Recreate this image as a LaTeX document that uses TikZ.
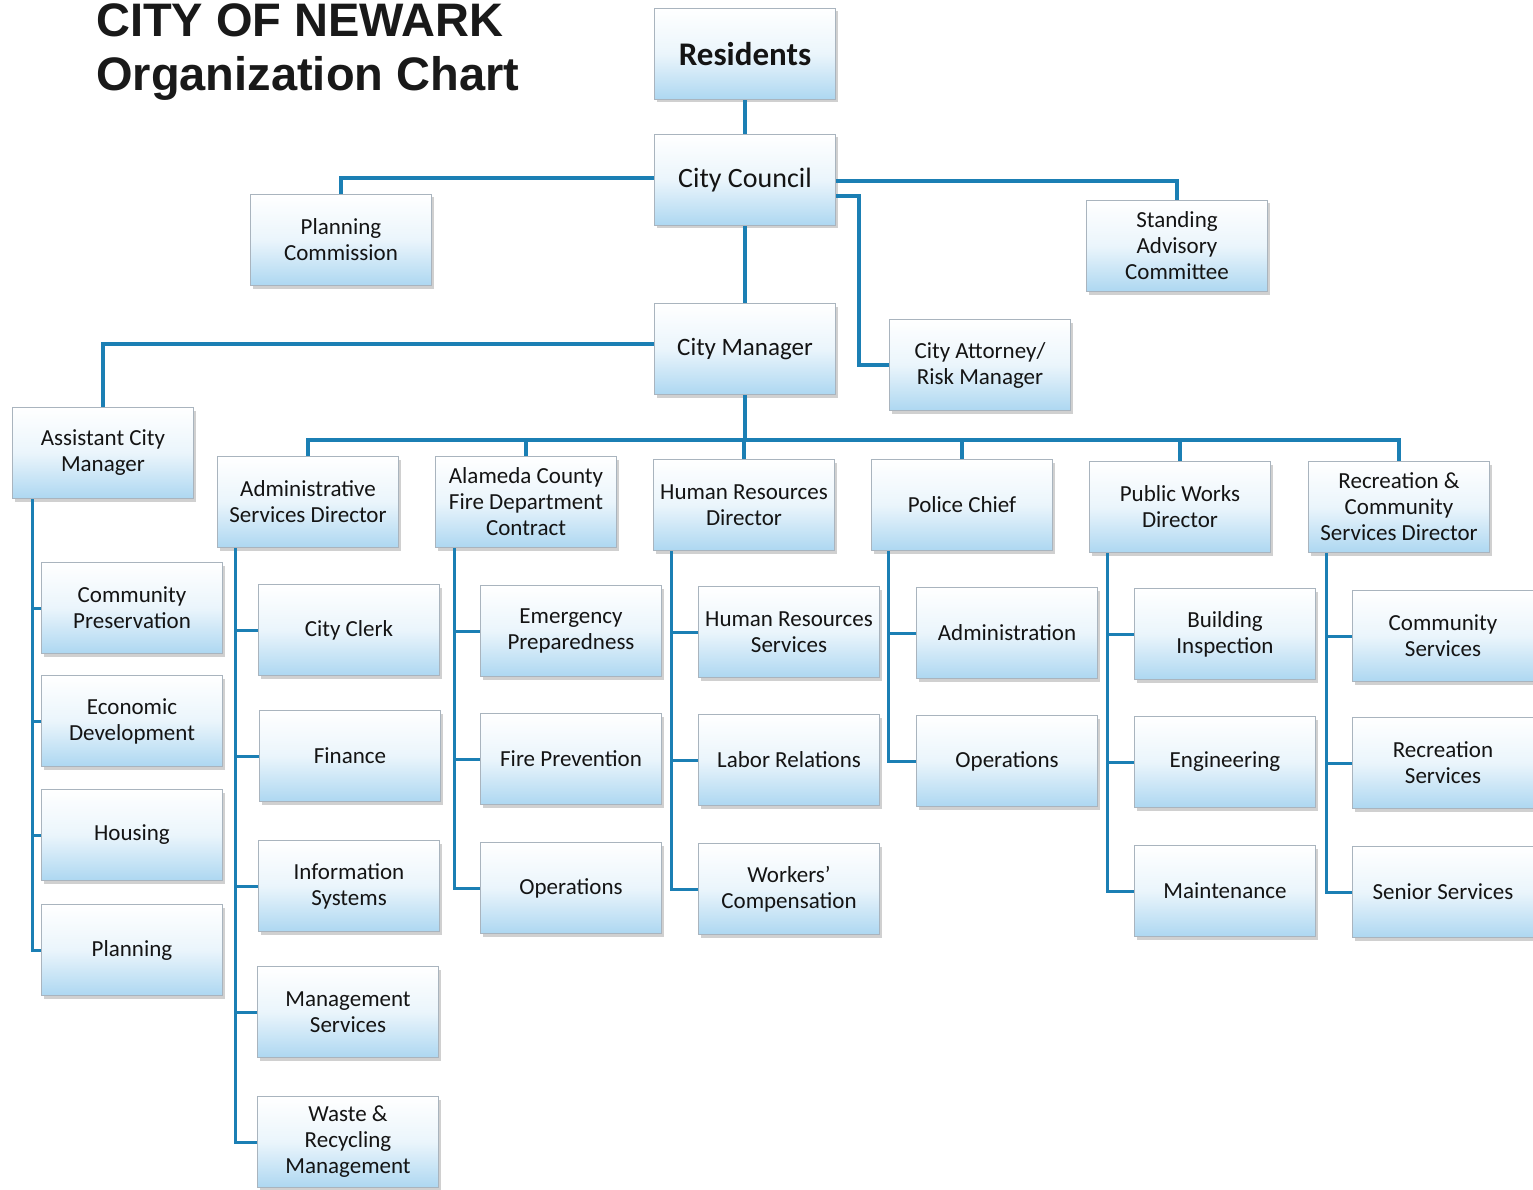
\documentclass[tikz,border=0pt]{standalone}
\usepackage{fontspec}
\setmainfont{Carlito}
\newfontfamily\headfont{Liberation Sans}
\usetikzlibrary{positioning,shadows}

\definecolor{linkblue}{HTML}{1B7FB4}
\definecolor{boxblue}{HTML}{ADD7F1}
\definecolor{boxedge}{HTML}{A9B4BE}

\tikzset{
  unit/.style={draw=boxedge, line width=1.2pt, top color=white, bottom color=boxblue,
    middle color=white!75!boxblue, minimum width=181pt, minimum height=91pt,
    align=center, inner sep=2pt, text=black!92,
    font=\fontsize{23}{26}\selectfont,
    drop shadow={shadow xshift=2pt, shadow yshift=-3pt, fill=black!30, opacity=.6}},
  link/.style={draw=linkblue, line width=4.5pt},
  branch/.style={draw=linkblue, line width=3pt}
}

\begin{document}
\begin{tikzpicture}[x=1pt, y=-1pt]
    \useasboundingbox[fill=white] (0,0) rectangle (1533,1190);

    % heading
    \node[anchor=base west, inner sep=0, font=\headfont\bfseries\fontsize{47}{54}\selectfont, text=black!90]
        (title1) at (96,37) {CITY OF NEWARK};
    \node[anchor=base west, inner sep=0, font=\headfont\bfseries\fontsize{47}{54}\selectfont, text=black!90]
        (title2) at (96,91) {Organization Chart};

    % top of the chart
    \node[unit, font=\bfseries\fontsize{33}{40}\selectfont] (res) at (745,54) {Residents};
    \node[unit, font=\fontsize{28}{32}\selectfont] (cc) at (745,180) {City Council};
    \node[unit] (pc)  at (341,240)  {Planning\\Commission};
    \node[unit] (sac) at (1177,246) {Standing\\Advisory\\Committee};
    \node[unit, font=\fontsize{25}{30}\selectfont] (cm) at (745,349) {City Manager};
    \node[unit] (att) at (980,365)  {City Attorney/\\Risk Manager};

    % directors
    \node[unit] (acm)  at (103,453)  {Assistant City\\Manager};
    \node[unit] (asd)  at (308,502)  {Administrative\\Services Director};
    \node[unit] (fire) at (526,502)  {Alameda County\\Fire Department\\Contract};
    \node[unit] (hr)   at (744,505)  {Human Resources\\Director};
    \node[unit] (pol)  at (962,505)  {Police Chief};
    \node[unit] (pw)   at (1180,507) {Public Works\\Director};
    \node[unit] (rec)  at (1399,507) {Recreation \&\\Community\\Services Director};

    % assistant city manager
    \node[unit] (cp)   at (132,608) {Community\\Preservation};
    \node[unit] (ed)   at (132,721) {Economic\\Development};
    \node[unit] (hou)  at (132,835) {Housing};
    \node[unit] (plan) at (132,950) {Planning};

    % administrative services
    \node[unit] (clerk) at (349,630)  {City Clerk};
    \node[unit] (fin)   at (350,756)  {Finance};
    \node[unit] (is)    at (349,886)  {Information\\Systems};
    \node[unit] (ms)    at (348,1012) {Management\\Services};
    \node[unit] (waste) at (348,1142) {Waste \&\\Recycling\\Management};

    % fire department
    \node[unit] (ep)   at (571,631) {Emergency\\Preparedness};
    \node[unit] (fp)   at (571,759) {Fire Prevention};
    \node[unit] (fops) at (571,888) {Operations};

    % human resources
    \node[unit] (hrs) at (789,632) {Human Resources\\Services};
    \node[unit] (lr)  at (789,760) {Labor Relations};
    \node[unit] (wc)  at (789,889) {Workers'\\Compensation};

    % police
    \node[unit] (padm) at (1007,633) {Administration};
    \node[unit] (pops) at (1007,761) {Operations};

    % public works
    \node[unit] (bi)   at (1225,634) {Building\\Inspection};
    \node[unit] (eng)  at (1225,762) {Engineering};
    \node[unit] (mnt)  at (1225,891) {Maintenance};

    % recreation
    \node[unit] (cs)  at (1443,636) {Community\\Services};
    \node[unit] (rs)  at (1443,763) {Recreation\\Services};
    \node[unit] (ss)  at (1443,892) {Senior Services};

    % council level links
    \draw[link] (res) -- (cc);
    \draw[link] ([yshift=2pt]cc.west) -| (pc.north);
    \draw[link] ([yshift=-1pt]cc.east) -| (sac.north);
    \draw[link] ([yshift=-16pt]cc.east) -| ([xshift=-30pt]att.west) -- (att.west);
    \draw[link] (cc) -- (cm);
    \draw[link] ([yshift=5pt]cm.west) -| (acm.north);

    % bus under the city manager
    \foreach \d in {asd,fire,hr,pol,pw,rec}
        \draw[link] (cm.south) -- ++(0,45) -| (\d.north);

    % divisions
    \foreach \c in {cp,ed,hou,plan}
        \draw[branch] ([xshift=21pt]acm.south west) |- (\c.west);
    \foreach \c in {clerk,fin,is,ms,waste}
        \draw[branch] ([xshift=19pt]asd.south west) |- (\c.west);
    \foreach \c in {ep,fp,fops}
        \draw[branch] ([xshift=20pt]fire.south west) |- (\c.west);
    \foreach \c in {hrs,lr,wc}
        \draw[branch] ([xshift=19pt]hr.south west) |- (\c.west);
    \foreach \c in {padm,pops}
        \draw[branch] ([xshift=18pt]pol.south west) |- (\c.west);
    \foreach \c in {bi,eng,mnt}
        \draw[branch] ([xshift=19pt]pw.south west) |- (\c.west);
    \foreach \c in {cs,rs,ss}
        \draw[branch] ([xshift=19pt]rec.south west) |- (\c.west);
\end{tikzpicture}
\end{document}
